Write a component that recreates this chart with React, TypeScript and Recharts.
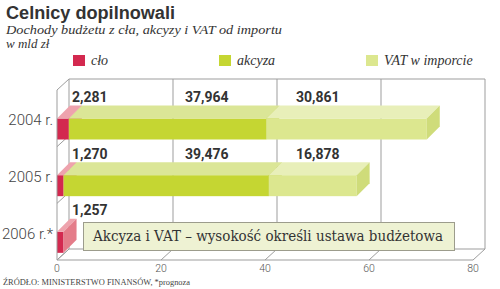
import React from "react";
import { BarChart, Bar, XAxis, YAxis, CartesianGrid, LabelList } from "recharts";

// dane: dochody budżetu w mld zł
const years = ["2004 r.", "2005 r.", "2006 r.*"];
const clo = [2.281, 1.27, 1.257];
const akcyza = [37.964, 39.476, null];
const vat = [30.861, 16.878, null];
const xTicks = [0, 20, 40, 60, 80];

const data = years.map((year, i) => ({ year, clo: clo[i], akcyza: akcyza[i], vat: vat[i] }));

const series = [
  { key: "clo", name: "cło", front: "#d3294f", top: "#eea3ad", side: "#e47c89", legendX: 73, labelX: 72 },
  { key: "akcyza", name: "akcyza", front: "#c5d632", top: "#dbe697", side: "#b9ca2c", legendX: 219, labelX: 185 },
  { key: "vat", name: "VAT w imporcie", front: "#dce78f", top: "#e8efb9", side: "#cfdc7a", legendX: 366, labelX: 296 },
];

const W = 500;
const H = 289;
const TOP = 90;
const BOTTOM = 260;
const LEFT = 57;
// głębokość ścian i słupków
const WDX = 12;
const WDY = 11;
const BDX = 13;
const BDY = 13;
const LINE = "#9d9d9d";

const fmt = (v: number) => v.toFixed(3).replace(".", ",");

const bandH = (BOTTOM - TOP) / years.length;
const hPoints = [TOP, ...years.slice(1).map((_, i) => TOP + bandH * (i + 1)), BOTTOM];

function Box3D(props: any) {
  const { x, y, width, height, colors } = props;
  if (!(width > 0)) return null;
  const y0 = y + height / 2;
  const x1 = x + width;
  return (
    <g>
      <rect x={x} y={y0} width={width} height={height} fill={colors.front} />
      <polygon
        points={`${x},${y0} ${x + BDX},${y0 - BDY} ${x1 + BDX},${y0 - BDY} ${x1},${y0}`}
        fill={colors.top}
      />
      <polygon
        points={`${x1},${y0} ${x1 + BDX},${y0 - BDY} ${x1 + BDX},${y0 - BDY + height} ${x1},${y0 + height}`}
        fill={colors.side}
      />
    </g>
  );
}

function VLine(props: any) {
  const { x1, y1, y2 } = props;
  return (
    <g>
      <line x1={x1 + WDX} y1={y1 - WDY} x2={x1 + WDX} y2={y2 - WDY} stroke={LINE} strokeWidth={1} />
      <line x1={x1} y1={y2} x2={x1 + WDX} y2={y2 - WDY} stroke={LINE} strokeWidth={1} />
    </g>
  );
}

function HLine(props: any) {
  const { x1, x2, y1, index } = props;
  const edge = index === 0 || index === hPoints.length - 1;
  return (
    <g>
      <line x1={x1} y1={y1} x2={x1 + WDX} y2={y1 - WDY} stroke={LINE} strokeWidth={1} />
      {edge && <line x1={x1 + WDX} y1={y1 - WDY} x2={x2 + WDX} y2={y1 - WDY} stroke={LINE} strokeWidth={1} />}
    </g>
  );
}

function XTick(props: any) {
  const { x, payload } = props;
  return (
    <text x={x} y={BOTTOM + 12} textAnchor="middle" fontFamily="Roboto" fontWeight={300} fontSize={10.5} fill="#555">
      {payload.value}
    </text>
  );
}

function YTick(props: any) {
  const { y, payload } = props;
  return (
    <text x={LEFT - 4} y={y + 2} textAnchor="end" dominantBaseline="central" fontFamily="Roboto" fontWeight={300} fontSize={15} fill="#444">
      {payload.value}
    </text>
  );
}

function ValueLabel(props: any) {
  const { y, value, labelX } = props;
  if (value == null) return null;
  return (
    <text x={labelX} y={y - 11} dominantBaseline="central" fontFamily="Roboto" fontWeight={700} fontSize={14} fill="#333">
      {fmt(value)}
    </text>
  );
}

export default function App() {
  return (
    <div style={{ position: "absolute", left: 0, top: 0, width: W, height: H, background: "#fff" }}>
      <BarChart
        width={W}
        height={H}
        data={data}
        layout="vertical"
        barSize={21}
        margin={{ top: TOP, right: W - 473, bottom: 0, left: 0 }}
      >
        <CartesianGrid vertical={VLine} horizontal={HLine} horizontalPoints={hPoints} />
        <XAxis
          type="number"
          domain={[0, 80]}
          ticks={xTicks}
          height={H - BOTTOM}
          axisLine={{ stroke: LINE }}
          tickLine={false}
          tick={XTick}
        />
        <YAxis type="category" dataKey="year" width={LEFT} axisLine={{ stroke: LINE }} tickLine={false} tick={YTick} />
        {series.map((s) => (
          <Bar
            key={s.key}
            dataKey={s.key}
            stackId="a"
            fill={s.front}
            isAnimationActive={false}
            shape={(p: any) => <Box3D {...p} colors={s} />}
          >
            <LabelList dataKey={s.key} content={(p: any) => <ValueLabel {...p} labelX={s.labelX} />} />
          </Bar>
        ))}
      </BarChart>
      <svg width={W} height={H} style={{ position: "absolute", left: 0, top: 0, pointerEvents: "none" }}>
        <text x={6} y={19} fontFamily="Liberation Sans" fontWeight={700} fontSize={18} fill="#333" textLength={169} lengthAdjust="spacingAndGlyphs">
          Celnicy dopilnowali
        </text>
        <text x={6} y={34} fontFamily="Liberation Serif" fontStyle="italic" fontSize={13} fill="#333" textLength={276} lengthAdjust="spacingAndGlyphs">
          Dochody budżetu z cła, akcyzy i VAT od importu
        </text>
        <text x={6} y={48} fontFamily="Liberation Serif" fontStyle="italic" fontSize={13} fill="#333">
          w mld zł
        </text>
        {series.map((s) => (
          <g key={s.key}>
            <rect x={s.legendX} y={55} width={12} height={11} fill={s.front} />
            <text x={s.legendX + 18} y={65} fontFamily="Liberation Serif" fontStyle="italic" fontSize={14} fill="#333">
              {s.name}
            </text>
          </g>
        ))}
        <rect x={83.5} y={222.5} width={371} height={28} fill="#eef2d3" stroke="#9c9c8c" strokeWidth={1} />
        <text x={93} y={241} fontFamily="DejaVu Serif" fontSize={15} fill="#333" textLength={350} lengthAdjust="spacingAndGlyphs">
          Akcyza i VAT – wysokość określi ustawa budżetowa
        </text>
        <text x={3} y={285} fontFamily="Liberation Serif" fontSize={9} fill="#444" textLength={187} lengthAdjust="spacingAndGlyphs">
          ŹRÓDŁO: MINISTERSTWO FINANSÓW, *prognoza
        </text>
      </svg>
    </div>
  );
}
